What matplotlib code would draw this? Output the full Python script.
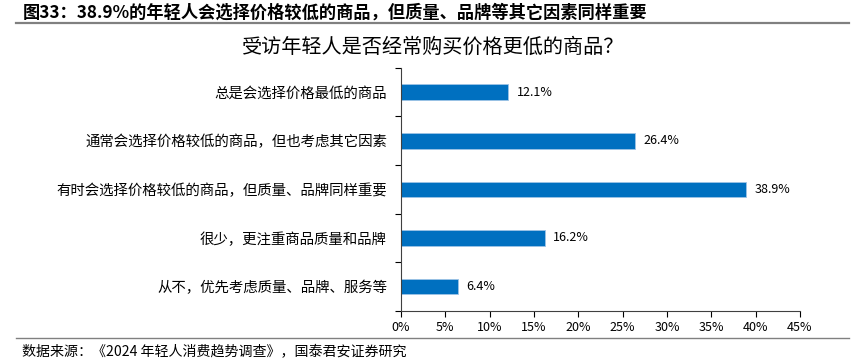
import numpy as np
import matplotlib.pyplot as plt
from matplotlib.lines import Line2D
from matplotlib.ticker import FuncFormatter

plt.rcParams['font.family'] = ['Noto Sans CJK SC', 'DejaVu Sans']

categories = [
    '总是会选择价格最低的商品',
    '通常会选择价格较低的商品，但也考虑其它因素',
    '有时会选择价格较低的商品，但质量、品牌同样重要',
    '很少，更注重商品质量和品牌',
    '从不，优先考虑质量、品牌、服务等',
]
values = [12.1, 26.4, 38.9, 16.2, 6.4]
xticks = [0, 5, 10, 15, 20, 25, 30, 35, 40, 45]

header = '图33：38.9%的年轻人会选择价格较低的商品，但质量、品牌等其它因素同样重要'
title = '受访年轻人是否经常购买价格更低的商品？'
source = '数据来源：《2024 年轻人消费趋势调查》，国泰君安证券研究'

fig = plt.figure(figsize=(8.62, 3.59), dpi=100)
ax = fig.add_axes([0.465, 0.134, 0.463, 0.677])

y = np.arange(len(categories))
ax.barh(y, values, height=0.32, color='#0070C0', edgecolor='#9DC3E6', linewidth=0.6)
for yi, v in zip(y, values):
    ax.text(v + 1.0, yi, f'{v:.1f}%', va='center', ha='left', fontsize=9, color='black')

ax.set_ylim(len(categories) - 0.5, -0.5)
ax.set_xlim(0, 45)
ax.set_xticks(xticks)
ax.xaxis.set_major_formatter(FuncFormatter(lambda v, p: f'{v:.0f}%'))
ax.set_yticks(y)
ax.set_yticklabels(categories)
ax.set_yticks(np.arange(len(categories) + 1) - 0.5, minor=True)
ax.tick_params(axis='y', which='major', length=0, pad=10, labelsize=10.4)
ax.tick_params(axis='y', which='minor', length=4, width=0.8)
ax.tick_params(axis='x', length=4, width=0.8, labelsize=9)

for side in ['top', 'right']:
    ax.spines[side].set_visible(False)
for side in ['left', 'bottom']:
    ax.spines[side].set_color('#404040')
    ax.spines[side].set_linewidth(0.8)

fig.text(0.026, 0.965, header, fontsize=12.4, fontweight='bold', va='center', ha='left')
fig.add_artist(Line2D([0.018, 0.985], [0.935, 0.935], color='#808080', linewidth=1.6))
fig.text(0.502, 0.868, title, fontsize=14.5, va='center', ha='center')
fig.add_artist(Line2D([0.018, 0.985], [0.058, 0.058], color='#808080', linewidth=1.0))
fig.text(0.026, 0.022, source, fontsize=10.1, va='center', ha='left')

fig.savefig('out.png', dpi=100)
